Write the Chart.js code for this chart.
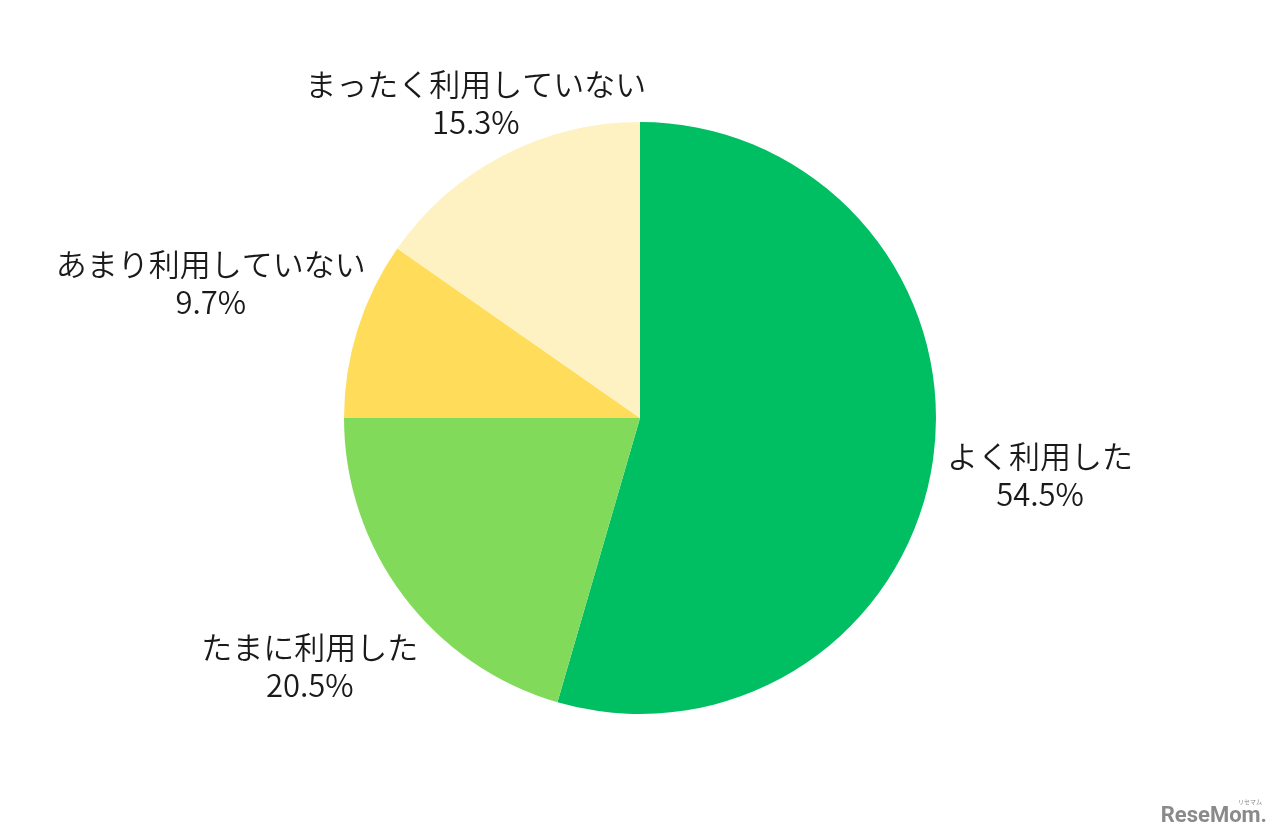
<!DOCTYPE html>
<html lang="ja">
<head>
<meta charset="utf-8">
<script src="https://cdn.jsdelivr.net/npm/chart.js@4.4.1/dist/chart.umd.min.js"></script>
<style>
  html, body { margin: 0; padding: 0; background: #fff; }
  #wrap { width: 1280px; height: 837px; position: relative; }
</style>
</head>
<body>
<div id="wrap"><canvas id="pie"></canvas></div>
<script>
// データ（時計回り、12時から）
const categories = ["よく利用した", "たまに利用した", "あまり利用していない", "まったく利用していない"];
const shares = [54.5, 20.5, 9.7, 15.3];
const colors = ["#00BF63", "#82DA5A", "#FFDC5A", "#FFF2C2"];

// ラベルを置く距離（半径に対する倍率）
const labelDist = [1.365, 1.395, 1.52, 1.2];

const FONT = '"Noto Sans CJK JP", "Noto Sans", sans-serif';

const outsideLabels = {
  id: "outsideLabels",
  afterDatasetsDraw(chart) {
    const ctx = chart.ctx;
    const meta = chart.getDatasetMeta(0);
    ctx.save();
    ctx.font = `350 31px ${FONT}`;
    ctx.fillStyle = "#1a1a1a";
    ctx.textAlign = "center";
    ctx.textBaseline = "middle";
    meta.data.forEach((arc, i) => {
      const mid = (arc.startAngle + arc.endAngle) / 2;
      const r = arc.outerRadius * labelDist[i];
      const x = arc.x + Math.cos(mid) * r;
      const y = arc.y + Math.sin(mid) * r;
      ctx.fillText(categories[i], x, y - 19);
      ctx.fillText(shares[i].toFixed(1) + "%", x, y + 19);
    });
    // ロゴ
    ctx.fillStyle = "#8a8a8a";
    ctx.textAlign = "right";
    ctx.textBaseline = "alphabetic";
    ctx.font = `700 22px "Liberation Sans Narrow", "Roboto", sans-serif`;
    ctx.fillText("ReseMom.", 1267, 822);
    ctx.font = `400 6px ${FONT}`;
    ctx.fillText("リセマム", 1262, 804);
    ctx.restore();
  }
};

new Chart(document.getElementById("pie"), {
  type: "pie",
  data: {
    labels: categories,
    datasets: [{
      data: shares,
      backgroundColor: colors,
      borderWidth: 0
    }]
  },
  options: {
    responsive: true,
    maintainAspectRatio: false,
    animation: false,
    layout: { padding: { top: 122, bottom: 123, left: 0, right: 0 } },
    plugins: {
      legend: { display: false },
      tooltip: { enabled: false }
    }
  },
  plugins: [outsideLabels]
});
</script>
</body>
</html>
